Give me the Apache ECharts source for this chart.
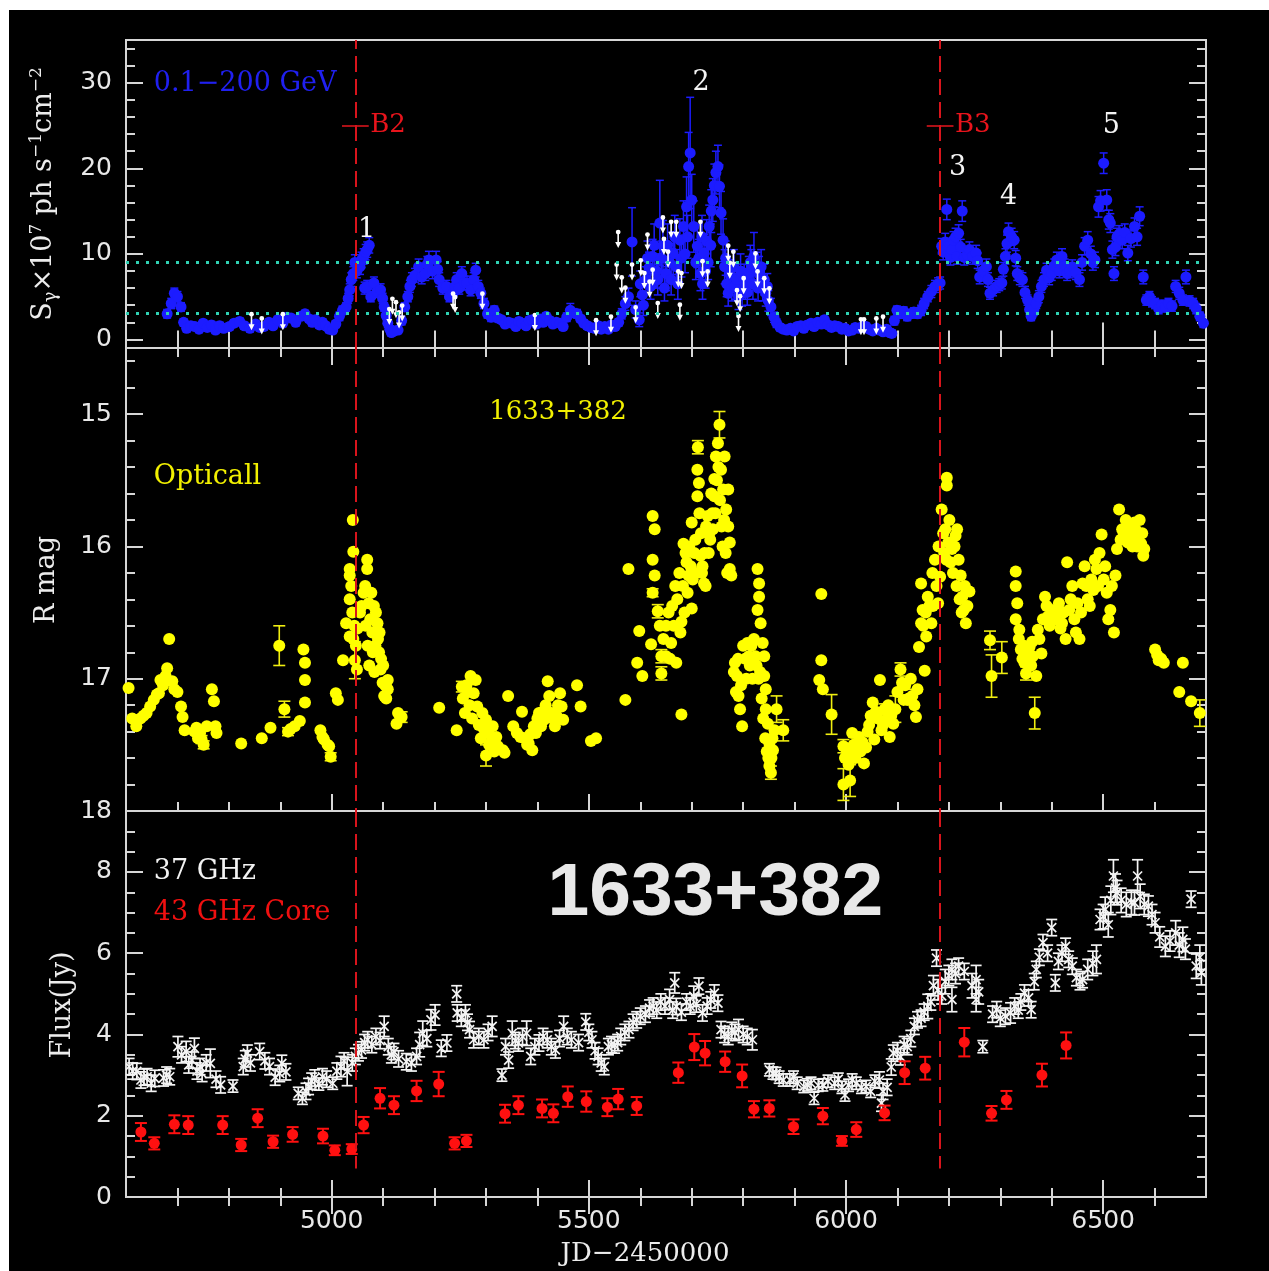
<!DOCTYPE html>
<html>
<head>
<meta charset="utf-8">
<title>1633+382 multiwavelength light curves</title>
<script src="https://cdn.jsdelivr.net/npm/echarts@6/dist/echarts.min.js"></script>
<style>
  html, body { margin: 0; padding: 0; background: #ffffff; width: 1269px; height: 1271px; overflow: hidden; }
  #chart { position: absolute; left: 9px; top: 10px; width: 1260px; height: 1261px; }
</style>
</head>
<body>
<div id="chart"></div>
<script>
// ---------------- axis ranges and tick values ----------------
const jdRange = [4600, 6700];
const jdMajorTicks = [5000, 5500, 6000, 6500];
const jdMinorTicks = [4700, 4800, 4900, 5100, 5200, 5300, 5400, 5600, 5700, 5800, 5900, 6100, 6200, 6300, 6400, 6600];

const gammaRange = [-1, 35];
const gammaMajorTicks = [0, 10, 20, 30];
const gammaMinorTicks = [2, 4, 6, 8, 12, 14, 16, 18, 22, 24, 26, 28, 32, 34];

const magRange = [14.5, 18];
const magMajorTicks = [15, 16, 17, 18];
const magMinorTicks = [14.6, 14.8, 15.2, 15.4, 15.6, 15.8, 16.2, 16.4, 16.6, 16.8, 17.2, 17.4, 17.6, 17.8];

const fluxRange = [0, 9.5];
const fluxMajorTicks = [0, 2, 4, 6, 8];
const fluxMinorTicks = [0.5, 1, 1.5, 2.5, 3, 3.5, 4.5, 5, 5.5, 6.5, 7, 7.5, 8.5, 9];

// ---------------- gamma-ray light curve: [JD-2450000, flux x1e-7, error] ----------------
const gammaPoints = [
  [4680,3.0,0.5],[4688,4.2,0.6],[4694,5.4,0.6],[4700,5.0,0.6],[4707,3.8,0.5],[4712,2.0,0.4],[4718,1.3,0.4],
  [4726,1.6,0.4],[4734,1.5,0.4],[4742,1.2,0.4],[4750,1.9,0.4],[4758,1.4,0.4],[4766,1.7,0.4],[4774,1.1,0.4],
  [4782,1.6,0.4],[4790,1.3,0.4],[4801,1.5,0.4],[4810,1.9,0.4],[4821,2.1,0.4],[4830,1.6,0.4],[4841,1.3,0.4],
  [4852,1.8,0.4],[4860,1.4,0.4],[4868,1.5,0.4],[4878,2.0,0.4],[4886,1.6,0.4],[4895,2.3,0.4],[4905,1.9,0.4],
  [4913,2.6,0.4],[4921,2.5,0.4],[4930,2.0,0.4],[4940,2.7,0.4],[4948,3.0,0.4],[4956,2.4,0.4],[4962,2.0,0.4],
  [4968,2.3,0.4],[4976,1.7,0.4],[4982,2.0,0.4],[4988,1.6,0.4],[4995,1.2,0.4],[5002,1.1,0.4],[5008,1.8,0.4],
  [5015,2.7,0.5],[5021,3.4,0.5],[5028,3.8,0.5],[5032,4.8,0.6],[5035,5.8,0.7],[5038,7.0,0.8],[5042,7.7,0.8],
  [5045,9.0,0.9],[5049,8.0,0.8],[5055,8.5,0.9],[5058,9.3,0.9],[5062,9.7,0.9],[5066,10.2,0.9],[5069,10.5,0.9],
  [5073,11.0,0.9],[5064,6.0,0.7],[5069,6.2,0.7],[5076,5.0,0.6],[5082,6.6,0.7],[5088,5.6,0.7],[5095,5.8,0.7],
  [5099,4.8,0.6],[5102,3.8,0.5],[5106,2.8,0.5],[5109,1.9,0.5],[5113,1.2,0.4],[5116,0.8,0.4],[5122,1.0,0.4],
  [5129,1.1,0.4],[5136,2.2,0.5],[5142,3.8,0.5],[5148,5.0,0.6],[5152,6.2,0.7],[5156,7.0,0.8],[5162,7.5,0.8],
  [5169,8.5,0.9],[5175,7.3,0.8],[5182,7.7,0.8],[5186,8.8,0.9],[5189,9.3,1.0],[5196,8.0,0.9],[5203,9.3,1.0],
  [5206,8.2,0.9],[5209,7.0,0.8],[5216,6.0,0.7],[5223,6.2,0.7],[5229,5.0,0.6],[5236,5.4,0.6],[5240,6.2,0.7],
  [5243,7.0,0.8],[5248,6.0,0.7],[5253,7.7,0.8],[5258,6.6,0.8],[5263,6.6,0.8],[5270,5.8,0.7],[5276,7.0,0.8],
  [5280,8.1,0.8],[5285,6.2,0.7],[5290,5.4,0.6],[5296,4.2,0.6],[5303,3.0,0.5],[5310,2.6,0.5],[5316,3.4,0.5],
  [5323,2.5,0.4],[5330,2.3,0.4],[5337,1.8,0.4],[5344,2.0,0.4],[5350,1.9,0.4],[5358,1.5,0.4],[5364,2.1,0.4],
  [5370,1.9,0.4],[5378,1.6,0.4],[5384,2.2,0.4],[5390,2.3,0.4],[5398,1.8,0.4],[5405,2.4,0.4],[5411,2.0,0.4],
  [5417,2.7,0.4],[5424,2.2,0.4],[5430,1.8,0.4],[5437,2.0,0.4],[5444,1.9,0.4],[5450,1.5,0.4],[5457,2.6,0.5],
  [5464,3.4,0.8],[5470,3.1,0.5],[5477,3.0,0.5],[5484,2.4,0.4],[5490,1.9,0.4],[5497,1.6,0.4],[5504,1.4,0.4],
  [5511,1.3,0.4],[5518,1.6,0.4],[5524,1.2,0.4],[5531,1.5,0.4],[5538,1.2,0.4],[5544,1.7,0.4],[5551,1.5,0.4],
  [5558,2.0,0.4],[5564,3.0,0.6],[5571,4.2,0.8],[5577,5.0,1.0],[5584,11.4,4.0],[5591,3.5,1.0],[5598,2.3,0.8],
  [5600,6.5,1.5],[5604,5.2,1.2],[5606,4.0,1.2],[5611,7.0,1.5],[5614,9.5,2.0],[5617,8.4,1.8],[5620,6.2,1.5],
  [5624,9.7,2.0],[5627,11.0,2.5],[5631,8.0,2.0],[5634,7.0,1.8],[5638,13.6,5.0],[5641,9.5,2.0],[5644,10.9,3.0],
  [5647,6.0,1.5],[5650,7.7,2.0],[5653,11.0,2.5],[5657,9.0,2.2],[5660,7.0,1.8],[5664,10.1,2.5],[5667,12.0,2.5],
  [5670,8.5,2.0],[5673,6.5,1.8],[5677,11.6,2.5],[5680,9.5,2.2],[5684,13.2,3.0],[5687,10.0,2.2],[5690,15.5,3.5],
  [5692,12.0,2.5],[5694,20.2,4.0],[5697,21.8,6.5],[5700,16.3,3.0],[5704,13.2,3.0],[5708,9.0,2.0],[5711,10.9,2.5],
  [5714,9.5,2.2],[5717,7.7,2.0],[5720,12.0,2.5],[5721,6.5,1.8],[5724,10.1,2.2],[5727,8.0,2.0],[5729,11.5,2.5],
  [5732,9.0,2.0],[5734,13.2,2.5],[5737,11.0,2.5],[5738,15.0,2.5],[5741,16.3,2.5],[5744,18.0,2.5],[5747,19.5,2.5],
  [5751,20.2,2.5],[5754,17.9,2.5],[5757,14.8,2.5],[5761,11.6,2.5],[5764,8.5,2.0],[5766,9.5,2.0],[5768,6.5,1.5],
  [5771,5.4,1.5],[5775,7.5,1.8],[5778,6.0,1.5],[5782,8.5,2.0],[5784,6.2,1.5],[5788,7.0,1.8],[5791,5.0,1.5],
  [5795,8.0,2.0],[5798,5.4,1.5],[5802,7.0,1.8],[5804,6.5,1.8],[5808,5.5,1.5],[5811,7.7,2.0],[5814,9.0,2.0],
  [5816,8.5,2.0],[5819,6.5,1.8],[5821,9.7,2.8],[5826,8.2,2.0],[5829,6.0,1.5],[5831,7.7,2.0],[5835,8.5,2.0],
  [5838,6.0,1.5],[5841,7.0,1.8],[5844,5.4,1.5],[5847,6.2,1.5],[5849,4.5,1.2],
  [5854,3.8,1.0],[5860,2.6,0.6],[5865,1.9,0.5],[5872,1.4,0.4],[5878,1.2,0.4],[5885,1.1,0.4],[5892,1.3,0.4],
  [5898,1.0,0.4],[5905,1.5,0.4],[5912,1.6,0.4],[5918,1.3,0.4],[5925,1.7,0.4],[5932,1.9,0.4],[5938,1.5,0.4],
  [5945,2.0,0.4],[5952,1.8,0.4],[5958,2.3,0.4],[5965,1.7,0.4],[5972,1.4,0.4],[5978,1.6,0.4],[5985,1.5,0.4],
  [5992,1.2,0.4],[5998,1.3,0.4],[6005,1.0,0.4],[6012,1.1,0.4],[6018,1.4,0.4],[6025,1.3,0.4],[6032,1.5,0.4],
  [6039,1.5,0.4],[6045,1.2,0.4],[6052,1.0,0.4],[6059,1.3,0.4],[6065,1.1,0.4],[6072,0.9,0.4],[6079,1.2,0.4],
  [6085,0.8,0.4],[6089,0.7,0.4],[6094,2.2,0.5],[6099,3.4,0.5],[6106,3.0,0.5],[6112,3.3,0.5],[6119,2.7,0.5],
  [6126,3.0,0.5],[6132,3.2,0.5],[6139,3.0,0.5],[6146,3.4,0.6],[6152,4.2,0.6],[6159,5.0,0.6],[6166,5.6,0.7],
  [6173,6.2,0.7],[6179,6.5,0.7],[6183,6.6,0.7],[6186,10.9,0.9],[6189,10.2,0.9],[6193,11.4,1.0],[6196,15.2,1.2],
  [6199,10.9,0.9],[6203,9.6,0.9],[6206,10.5,0.9],[6209,11.6,1.0],[6213,12.0,1.0],[6216,9.7,0.9],[6219,12.4,1.0],
  [6223,10.8,0.9],[6226,15.0,1.2],[6230,9.6,0.9],[6236,9.9,0.9],[6240,10.5,0.9],[6246,9.7,0.9],[6253,10.1,0.9],
  [6256,9.2,0.9],[6260,7.3,0.8],[6266,8.0,0.8],[6273,8.5,0.9],[6276,7.0,0.8],[6280,5.4,0.7],[6286,5.8,0.7],
  [6293,6.2,0.7],[6298,6.4,0.7],[6303,6.6,0.7],[6306,8.2,0.8],[6310,9.7,0.9],[6313,11.2,1.0],[6316,12.6,1.0],
  [6322,12.0,1.0],[6327,11.6,1.0],[6330,9.5,0.9],[6333,7.7,0.8],[6338,7.2,0.8],[6343,7.0,0.8],[6348,5.5,0.7],
  [6353,4.6,0.6],[6357,3.5,0.6],[6360,2.7,0.5],[6365,3.4,0.6],[6370,4.2,0.6],[6375,5.0,0.7],[6380,6.2,0.7],
  [6385,7.0,0.8],[6390,8.1,0.8],[6395,7.2,0.8],[6400,7.7,0.8],[6405,8.6,0.8],[6410,9.3,0.9],[6415,8.0,0.8],
  [6420,9.7,0.9],[6425,8.6,0.8],[6430,7.7,0.8],[6435,8.0,0.8],[6440,8.5,0.8],[6447,7.8,0.8],[6454,7.0,0.8],
  [6459,9.0,0.9],[6464,10.9,1.0],[6470,11.6,1.0],[6476,10.0,0.9],[6480,9.0,0.9],[6484,9.3,0.9],[6491,15.5,1.2],
  [6495,16.2,1.2],[6501,20.6,1.2],[6507,16.3,1.2],[6511,14.0,1.1],[6514,13.6,1.1],[6518,10.5,1.0],[6521,7.7,0.8],
  [6524,10.8,1.0],[6527,12.0,1.0],[6531,12.3,1.0],[6537,11.6,1.0],[6542,12.5,1.0],[6548,10.1,0.9],[6554,11.8,1.0],
  [6561,13.2,1.0],[6566,12.0,1.0],[6571,14.4,1.1],[6578,7.3,0.8],[6584,4.6,0.6],[6590,5.0,0.6],[6595,4.4,0.6],
  [6601,4.2,0.6],[6608,3.6,0.6],[6614,4.0,0.6],[6621,3.8,0.6],[6627,4.2,0.6],[6634,3.9,0.6],[6641,6.2,0.7],
  [6648,5.4,0.7],[6655,4.6,0.6],[6661,7.3,0.8],[6668,4.5,0.6],[6675,4.2,0.6],[6681,3.6,0.6],[6688,2.7,0.5],
  [6695,1.9,0.5]
];

// gamma-ray upper limits: [JD-2450000, limit]
const gammaUpperLimits = [
  [4844,1.2],[4864,0.7],[4905,1.2],[5112,1.8],[5118,3.0],[5125,2.6],[5131,1.4],[5137,2.2],[5236,3.6],[5240,3.2],
  [5293,3.6],[5395,1.1],[5514,0.5],[5543,0.9],[5554,7.0],[5557,10.8],[5564,5.5],[5571,4.3],[5584,7.0],[5591,2.0],
  [5601,7.5],[5608,6.0],[5614,10.5],[5618,5.0],[5624,6.4],[5634,2.5],[5644,12.5],[5646,10.0],[5654,8.5],[5660,12.0],
  [5670,12.0],[5674,6.2],[5677,2.3],[5680,6.0],[5717,12.0],[5721,7.4],[5731,6.2],[5771,9.2],[5774,7.2],[5781,8.5],
  [5788,4.0],[5791,1.0],[5794,3.3],[5801,5.4],[5824,8.3],[5828,6.2],[5841,5.4],[5851,4.2],[6029,0.6],[6035,0.6],
  [6059,0.7],[6072,0.9]
];

// ---------------- optical R-band: [JD-2450000, R mag, error (0 = within marker)] ----------------
const opticalPoints = [
  [4605,17.07,0],[4612,17.30,0],[4620,17.36,0],[4628,17.30,0],[4634,17.28,0],[4640,17.26,0],[4647,17.21,0],
  [4654,17.16,0],[4660,17.12,0],[4664,17.11,0],[4667,17.01,0],[4672,17.05,0],[4677,16.98,0],[4680,16.92,0],
  [4684,16.70,0],[4690,17.02,0],[4694,17.08,0],[4700,17.10,0],[4707,17.21,0],[4710,17.29,0],[4714,17.39,0],
  [4733,17.40,0],[4737,17.37,0],[4740,17.45,0],[4744,17.41,0],[4747,17.46,0.03],[4751,17.50,0.03],[4757,17.36,0],
  [4767,17.08,0],[4771,17.17,0],[4774,17.36,0],[4776,17.41,0],[4824,17.49,0],[4864,17.45,0],[4881,17.37,0],
  [4898,16.75,0.15],[4908,17.23,0.06],[4915,17.40,0.03],[4920,17.38,0],[4928,17.36,0],[4938,17.32,0],
  [4945,16.78,0],[4948,16.88,0],[4948,17.01,0],[4948,17.18,0],[4978,17.39,0],[4982,17.44,0],[4985,17.46,0],
  [4992,17.50,0],[4995,17.51,0],[4998,17.59,0.03],[5008,17.11,0],[5012,17.16,0],[5022,16.86,0],[5028,16.58,0],
  [5035,16.68,0],[5035,16.22,0],[5035,16.17,0],[5038,16.30,0],[5040,16.50,0],[5041,15.80,0],[5042,16.04,0],
  [5035,16.40,0],[5042,16.70,0],[5044,16.60,0],[5045,16.86,0.14],[5047,16.75,0],[5049,16.93,0],[5050,16.62,0],
  [5055,16.50,0],[5058,16.45,0],[5062,16.35,0],[5065,16.30,0],[5066,16.60,0],[5069,16.10,0],[5069,16.17,0],
  [5070,16.75,0],[5072,16.43,0],[5073,16.90,0],[5075,16.55,0],[5077,16.35,0],[5080,16.80,0],[5082,16.45,0],
  [5079,16.65,0],[5083,16.95,0],[5086,16.50,0],[5089,16.58,0],[5085,16.75,0],[5090,16.70,0],[5092,16.80,0],
  [5093,16.65,0],[5095,16.93,0],[5096,16.85,0],[5099,17.03,0],[5100,16.90,0],[5102,17.13,0],[5104,17.05,0],
  [5106,17.15,0],[5109,17.01,0],[5109,17.08,0],[5126,17.34,0],[5129,17.26,0],[5136,17.29,0.04],[5209,17.22,0],
  [5243,17.39,0],[5253,17.06,0.04],[5255,17.15,0],[5259,17.26,0],[5262,17.05,0],[5265,17.10,0],[5268,17.20,0],
  [5270,16.98,0],[5273,17.30,0],[5276,17.11,0],[5280,17.01,0],[5283,17.21,0],[5286,17.35,0],[5290,17.45,0],
  [5293,17.26,0],[5296,17.38,0],[5300,17.31,0],[5300,17.58,0.08],[5303,17.41,0],[5306,17.50,0],[5310,17.48,0],
  [5313,17.36,0],[5316,17.55,0],[5320,17.44,0],[5323,17.51,0],[5333,17.54,0],[5336,17.56,0],[5343,17.13,0],
  [5353,17.36,0],[5360,17.41,0],[5367,17.44,0],[5370,17.25,0],[5375,17.45,0],[5380,17.50,0],[5383,17.49,0],
  [5386,17.42,0],[5390,17.54,0],[5393,17.36,0],[5397,17.41,0],[5400,17.30,0],[5403,17.26,0],[5407,17.36,0],
  [5410,17.25,0],[5413,17.31,0],[5416,17.20,0],[5420,17.02,0],[5423,17.13,0],[5427,17.26,0],[5430,17.30,0],
  [5434,17.36,0],[5437,17.28,0],[5440,17.20,0],[5444,17.11,0],[5447,17.21,0],[5450,17.31,0],
  [5477,17.05,0],[5484,17.21,0],[5504,17.47,0],[5514,17.45,0],[5571,17.16,0],[5577,16.17,0],[5594,16.88,0],
  [5598,16.64,0],[5604,16.98,0],[5621,16.74,0],[5624,15.77,0],[5628,15.87,0],[5624,16.10,0],[5628,16.22,0],
  [5624,16.35,0.03],[5634,16.49,0.05],[5638,16.60,0],[5641,16.83,0.05],[5641,16.96,0.05],[5645,16.70,0],
  [5650,16.83,0],[5650,16.60,0],[5655,16.50,0],[5658,16.85,0],[5660,16.73,0],[5662,16.45,0],[5665,16.60,0],
  [5668,16.30,0],[5670,16.88,0],[5672,16.40,0],[5676,16.20,0],[5678,16.65,0],[5680,17.27,0],[5680,16.57,0],
  [5683,16.30,0],[5684,15.98,0],[5686,16.50,0],[5688,16.05,0],[5690,16.12,0],[5692,16.35,0],[5694,16.22,0],
  [5695,16.00,0],[5698,16.15,0],[5700,16.47,0],[5700,15.82,0],[5702,16.25,0],[5705,16.05,0],[5707,15.95,0],
  [5708,16.20,0],[5711,15.62,0],[5711,15.42,0],[5712,15.25,0.05],[5714,15.52,0],[5715,15.75,0],[5717,16.07,0],
  [5718,15.90,0],[5720,16.20,0],[5721,16.15,0],[5724,16.28,0],[5725,16.05,0],[5727,16.30,0],[5728,15.85,0],
  [5731,15.77,0],[5733,16.05,0],[5734,15.90,0],[5736,15.95,0],[5738,15.60,0],[5740,15.75,0],[5741,15.87,0],
  [5744,15.62,0],[5744,15.49,0],[5746,15.75,0],[5747,15.32,0],[5749,15.50,0],[5751,15.22,0],[5752,15.40,0],
  [5754,15.08,0.1],[5755,15.65,0],[5757,15.42,0],[5758,15.85,0],[5760,16.00,0],[5761,15.57,0],[5763,15.80,0],
  [5764,15.32,0],[5766,16.05,0],[5767,15.72,0],[5769,16.20,0],[5771,15.85,0],[5771,15.57,0],[5774,15.97,0],
  [5774,16.17,0],[5777,16.22,0],[5782,16.95,0],[5784,16.88,0],[5786,17.10,0],[5788,16.98,0],[5790,16.85,0],
  [5791,17.13,0],[5794,17.23,0],[5796,17.05,0],[5798,17.36,0],[5800,16.75,0],[5804,16.85,0],[5806,17.00,0],
  [5808,16.73,0],[5811,16.83,0],[5813,16.90,0],[5816,16.75,0],[5818,17.00,0],[5821,16.70,0],[5824,16.83,0],
  [5826,16.90,0],[5828,16.17,0],[5830,17.00,0],[5831,16.28,0],[5831,16.38,0],[5828,16.48,0],[5833,16.95,0],
  [5834,16.58,0],[5836,17.15,0],[5838,16.73,0],[5839,17.30,0],[5841,16.83,0],[5841,16.98,0],[5843,17.45,0],
  [5844,17.08,0],[5844,17.23,0],[5846,17.55,0],[5848,17.34,0],[5849,17.60,0],[5851,17.49,0],[5851,17.66,0],
  [5854,17.71,0.05],[5855,17.60,0],[5857,17.45,0],[5858,17.54,0],[5861,17.39,0],[5865,17.23,0.1],[5878,17.39,0.08],
  [5952,16.36,0],[5952,16.86,0],[5948,17.01,0],[5955,17.08,0],[5972,17.27,0.15],[5995,17.51,0.05],
  [5995,17.80,0.12],[5998,17.60,0],[6002,17.55,0],[6005,17.65,0],[6008,17.77,0.12],[6012,17.41,0],[6012,17.54,0],
  [6015,17.50,0],[6018,17.60,0],[6022,17.49,0],[6025,17.44,0],[6028,17.55,0],[6032,17.48,0],[6035,17.64,0],
  [6039,17.52,0],[6042,17.40,0],[6045,17.35,0],[6048,17.28,0],[6052,17.18,0],[6055,17.46,0],[6058,17.25,0],
  [6062,17.30,0],[6066,17.01,0],[6069,17.39,0],[6072,17.35,0],[6075,17.23,0.04],[6079,17.31,0],[6082,17.20,0],
  [6085,17.44,0],[6088,17.28,0],[6092,17.34,0],[6096,17.23,0.1],[6100,17.10,0],[6106,16.93,0.05],[6109,17.03,0],
  [6112,17.16,0],[6115,17.05,0],[6119,17.16,0],[6122,17.15,0],[6126,17.00,0],[6129,17.13,0.05],[6133,17.20,0],
  [6136,17.29,0],[6139,17.08,0],[6142,16.76,0],[6146,16.58,0],[6149,16.48,0],[6150,16.60,0],[6153,16.94,0],
  [6146,16.28,0],[6155,16.50,0],[6156,16.68,0],[6159,16.38,0],[6162,16.45,0],[6166,16.58,0],[6168,16.20,0],
  [6169,16.45,0],[6173,16.10,0],[6176,16.30,0],[6179,16.43,0],[6180,16.00,0],[6183,16.23,0],[6186,15.72,0],
  [6189,15.90,0],[6191,16.05,0],[6193,15.87,0],[6195,16.10,0],[6196,15.48,0],[6196,15.54,0],[6199,15.97,0],
  [6201,15.80,0],[6203,16.12,0],[6206,16.02,0],[6208,16.20,0],[6211,16.00,0],[6213,15.92,0],[6215,16.30,0],
  [6216,15.87,0],[6219,16.10,0],[6221,16.40,0],[6223,16.22,0],[6225,16.50,0],[6226,16.38,0],[6229,16.48,0],
  [6231,16.30,0],[6233,16.58,0],[6236,16.45,0],[6240,16.34,0],[6280,16.71,0.07],[6283,16.98,0.16],[6303,16.84,0.12],
  [6330,16.19,0],[6330,16.30,0],[6333,16.43,0],[6330,16.55,0],[6336,16.70,0],[6337,16.63,0],[6340,16.78,0],
  [6343,16.85,0],[6346,16.75,0],[6347,16.88,0],[6350,16.96,0.05],[6353,16.80,0],[6357,16.76,0],[6360,16.90,0],
  [6362,16.72,0],[6363,16.83,0],[6367,17.26,0.12],[6370,16.98,0],[6373,16.63,0],[6376,16.70,0],[6380,16.81,0],
  [6383,16.55,0],[6387,16.38,0],[6390,16.45,0],[6393,16.53,0],[6396,16.60,0],[6400,16.48,0],[6403,16.52,0],
  [6407,16.55,0],[6410,16.50,0],[6414,16.43,0],[6417,16.62,0],[6420,16.58,0],[6423,16.50,0],[6427,16.70,0],
  [6430,16.12,0],[6434,16.48,0],[6437,16.40,0],[6440,16.30,0],[6444,16.55,0],[6447,16.65,0],[6450,16.43,0],
  [6454,16.70,0],[6457,16.50,0],[6460,16.28,0],[6464,16.15,0],[6467,16.30,0],[6470,16.40,0],[6474,16.45,0],
  [6477,16.25,0],[6481,16.33,0],[6484,16.10,0],[6487,16.17,0],[6490,16.30,0],[6493,16.05,0],[6497,15.91,0],
  [6501,16.25,0],[6504,16.15,0],[6507,16.35,0],[6510,16.55,0],[6514,16.48,0],[6517,16.30,0],[6521,16.65,0],
  [6524,16.22,0],[6527,16.02,0],[6531,15.72,0],[6534,15.95,0],[6537,15.87,0],[6540,15.90,0],[6544,15.80,0],
  [6548,15.97,0],[6551,15.85,0],[6554,15.92,0],[6557,16.00,0],[6561,15.82,0],[6564,15.88,0],[6566,16.00,0],
  [6568,15.95,0],[6571,15.80,0],[6574,15.98,0],[6576,15.90,0],[6578,16.07,0],[6580,16.02,0],[6601,16.78,0],
  [6605,16.82,0],[6608,16.86,0],[6613,16.85,0],[6618,16.88,0],[6648,17.10,0],[6655,16.88,0],[6671,17.17,0],
  [6688,17.26,0.1]
];

// ---------------- 37 GHz single-dish flux: [JD-2450000, Jy, error] ----------------
const radio37Points = [
  [4606,3.21,0.2],[4613,3.10,0.2],[4621,3.09,0.2],[4629,2.88,0.2],[4635,2.95,0.2],[4641,2.96,0.2],[4649,2.80,0.2],
  [4656,2.92,0.2],[4673,2.93,0.2],[4679,3.00,0.2],[4685,2.96,0.2],[4701,3.70,0.25],[4708,3.50,0.2],[4717,3.58,0.25],
  [4722,3.25,0.2],[4728,3.37,0.2],[4733,3.66,0.25],[4738,3.10,0.2],[4744,3.21,0.2],[4748,3.04,0.2],[4756,3.30,0.2],
  [4764,3.29,0.35],[4775,2.90,0.2],[4784,2.76,0.2],[4808,2.73,0.15],[4828,3.21,0.2],[4832,3.40,0.2],[4836,3.54,0.2],
  [4842,3.30,0.2],[4860,3.58,0.2],[4870,3.35,0.2],[4879,3.21,0.2],[4890,2.95,0.2],[4899,3.04,0.2],[4903,3.29,0.2],
  [4911,3.08,0.2],[4935,2.55,0.15],[4943,2.43,0.15],[4950,2.60,0.2],[4955,2.72,0.2],[4961,2.85,0.2],[4967,2.93,0.2],
  [4975,2.78,0.15],[4982,2.96,0.2],[4990,2.90,0.2],[5002,2.80,0.15],[5010,3.10,0.2],[5018,3.21,0.25],[5024,3.35,0.2],
  [5030,3.09,0.35],[5040,3.30,0.2],[5046,3.46,0.2],[5052,3.55,0.2],[5058,3.62,0.2],[5064,3.80,0.2],[5070,3.87,0.2],
  [5078,3.75,0.2],[5086,3.95,0.2],[5094,3.85,0.2],[5102,4.20,0.25],[5110,3.70,0.2],[5116,3.50,0.2],[5121,3.58,0.2],
  [5130,3.40,0.2],[5145,3.33,0.2],[5155,3.30,0.2],[5165,3.46,0.2],[5171,3.75,0.3],[5177,4.03,0.3],[5185,3.90,0.2],
  [5193,4.36,0.25],[5201,4.48,0.25],[5213,3.66,0.2],[5224,3.79,0.2],[5243,5.00,0.2],[5244,4.53,0.2],[5252,4.40,0.2],
  [5260,4.53,0.2],[5264,4.30,0.2],[5268,4.12,0.2],[5276,3.87,0.2],[5286,3.95,0.2],[5296,3.87,0.2],[5304,4.05,0.2],
  [5312,4.20,0.25],[5331,3.00,0.15],[5338,3.70,0.2],[5344,3.37,0.2],[5351,4.03,0.3],[5357,3.85,0.2],[5363,3.79,0.2],
  [5371,3.95,0.2],[5379,4.03,0.3],[5387,3.46,0.2],[5395,3.70,0.2],[5403,3.79,0.2],[5411,3.95,0.2],[5419,3.87,0.2],
  [5427,3.70,0.2],[5435,3.62,0.2],[5443,3.90,0.2],[5451,4.20,0.25],[5458,3.95,0.2],[5466,3.87,0.2],[5480,3.80,0.2],
  [5494,4.31,0.2],[5500,4.05,0.2],[5506,3.87,0.2],[5512,3.60,0.2],[5518,3.46,0.2],[5524,3.30,0.2],[5530,3.21,0.2],
  [5538,3.70,0.2],[5544,3.75,0.2],[5550,3.74,0.2],[5556,3.80,0.2],[5562,3.95,0.2],[5570,4.05,0.2],[5578,4.12,0.2],
  [5586,4.30,0.2],[5593,4.36,0.2],[5600,4.45,0.2],[5610,4.50,0.2],[5618,4.65,0.2],[5625,4.70,0.2],[5632,4.60,0.2],
  [5640,4.80,0.2],[5648,4.70,0.2],[5657,4.86,0.25],[5663,4.60,0.2],[5667,5.27,0.25],[5670,4.69,0.2],[5680,4.55,0.2],
  [5690,4.80,0.2],[5697,4.70,0.2],[5704,4.94,0.25],[5709,4.75,0.2],[5714,5.19,0.2],[5721,4.53,0.2],[5730,4.70,0.2],
  [5737,4.85,0.2],[5744,5.02,0.2],[5751,4.77,0.2],[5757,4.12,0.2],[5764,4.00,0.2],[5771,3.95,0.2],[5778,4.10,0.2],
  [5784,4.05,0.2],[5791,4.12,0.25],[5800,4.00,0.2],[5808,3.95,0.2],[5818,3.87,0.25],[5851,3.13,0.15],[5858,3.05,0.15],
  [5864,3.04,0.15],[5870,2.95,0.15],[5878,2.88,0.15],[5891,2.88,0.15],[5898,2.95,0.15],[5905,2.80,0.15],
  [5918,2.72,0.15],[5925,2.76,0.15],[5932,2.80,0.15],[5938,2.43,0.15],[5946,2.75,0.15],[5955,2.76,0.15],
  [5965,2.85,0.15],[5978,2.80,0.15],[5985,2.90,0.15],[5992,2.70,0.15],[5998,2.51,0.15],[6005,2.75,0.15],
  [6012,2.88,0.15],[6020,2.80,0.15],[6030,2.70,0.15],[6039,2.72,0.15],[6048,2.60,0.15],[6056,2.85,0.15],
  [6065,2.88,0.2],[6069,2.31,0.2],[6072,2.60,0.2],[6080,2.70,0.2],[6088,3.20,0.2],[6092,3.54,0.2],[6100,3.60,0.2],
  [6106,3.45,0.2],[6113,3.75,0.2],[6119,3.70,0.2],[6126,3.90,0.2],[6133,4.20,0.2],[6139,4.36,0.2],[6146,4.40,0.2],
  [6152,4.55,0.2],[6159,4.69,0.3],[6165,4.80,0.2],[6170,5.20,0.25],[6176,5.88,0.2],[6179,5.10,0.25],[6186,4.95,0.2],
  [6193,5.30,0.3],[6200,5.45,0.25],[6206,5.60,0.25],[6206,4.86,0.3],[6213,5.50,0.25],[6219,5.68,0.2],[6230,5.55,0.2],
  [6245,5.20,0.3],[6253,5.35,0.35],[6253,4.86,0.3],[6258,5.05,0.3],[6266,3.70,0.15],[6285,4.50,0.2],[6293,4.61,0.2],
  [6300,4.40,0.2],[6310,4.45,0.2],[6320,4.53,0.25],[6328,4.70,0.2],[6335,4.60,0.2],[6340,4.80,0.2],[6347,5.02,0.2],
  [6355,4.90,0.2],[6360,4.61,0.2],[6366,5.30,0.2],[6370,5.60,0.2],[6376,5.90,0.2],[6383,6.26,0.2],[6392,6.00,0.2],
  [6400,6.63,0.2],[6407,5.27,0.2],[6413,5.80,0.2],[6420,6.00,0.2],[6427,6.17,0.2],[6433,5.85,0.2],[6440,5.68,0.2],
  [6448,5.40,0.2],[6455,5.30,0.2],[6460,5.35,0.2],[6470,5.60,0.25],[6480,5.75,0.3],[6487,5.85,0.35],[6494,6.83,0.25],
  [6500,6.90,0.3],[6504,7.08,0.3],[6510,6.70,0.3],[6515,7.30,0.35],[6520,7.90,0.4],[6524,7.60,0.35],[6527,7.49,0.3],
  [6535,7.30,0.3],[6545,7.20,0.3],[6555,7.25,0.3],[6561,7.24,0.3],[6567,7.90,0.4],[6572,7.40,0.3],[6580,7.20,0.25],
  [6588,7.16,0.25],[6595,6.95,0.25],[6601,6.75,0.25],[6610,6.40,0.25],[6621,6.17,0.25],[6630,6.30,0.25],
  [6641,6.50,0.3],[6648,6.20,0.3],[6655,6.34,0.3],[6660,6.10,0.25],[6671,7.33,0.2],[6681,5.68,0.3],[6688,5.90,0.3],
  [6691,5.52,0.3]
];

// ---------------- 43 GHz VLBI core flux: [JD-2450000, Jy, error] ----------------
const core43Points = [
  [4629,1.60,0.22],[4655,1.32,0.15],[4694,1.79,0.22],[4721,1.77,0.22],[4788,1.77,0.22],[4824,1.28,0.15],
  [4856,1.94,0.22],[4886,1.36,0.15],[4924,1.54,0.18],[4983,1.50,0.18],[5006,1.15,0.12],[5039,1.18,0.12],
  [5062,1.77,0.2],[5094,2.43,0.25],[5121,2.26,0.22],[5165,2.61,0.25],[5208,2.78,0.3],[5239,1.32,0.15],
  [5262,1.38,0.15],[5337,2.05,0.22],[5363,2.26,0.22],[5409,2.18,0.22],[5431,2.06,0.22],[5459,2.47,0.25],
  [5495,2.35,0.25],[5536,2.21,0.22],[5557,2.41,0.25],[5593,2.24,0.22],[5674,3.06,0.25],[5705,3.69,0.32],
  [5726,3.54,0.3],[5765,3.33,0.25],[5798,2.98,0.28],[5821,2.16,0.2],[5851,2.18,0.2],[5898,1.73,0.18],
  [5955,1.99,0.2],[5992,1.38,0.12],[6020,1.66,0.18],[6075,2.07,0.18],[6114,3.06,0.28],[6154,3.17,0.28],
  [6230,3.81,0.35],[6283,2.06,0.18],[6312,2.39,0.22],[6381,3.00,0.28],[6428,3.73,0.32]
];

// ---------------- event markers and annotations ----------------
const burstJD = [5046, 6183];
const burstNames = ['B2', 'B3'];
const burstMarkFlux = 25;
const burstMarkHalfWidth = 26;
const radioBurstLineBottom = 0.7;
const gammaLevels = [9.0, 3.05];

const flareNames = ['1', '2', '3', '4', '5'];
const flareJD = [5068, 5718, 6217, 6316, 6516];
const flareFlux = [12.8, 30.0, 20.0, 16.7, 25.0];

const gammaBandText = '0.1\u2212200 GeV';
const gammaBandAt = [4653, 29.9];
const opticalBandText = 'Opticall';
const opticalBandAt = [4653, 15.477];
const sourceName = '1633+382';
const opticalNameAt = [5440, 14.985];
const radio37Text = '37 GHz';
const radio37At = [4653, 7.99];
const core43Text = '43 GHz Core';
const core43At = [4653, 7.0];
const bigNameAt = [5746, 7.45];

// ---------------- styling ----------------
const frameColor = '#d6d6d6';
const tickFont = 'DejaVu Sans';
const textFont = 'DejaVu Serif';
const gammaBlue = '#1c1cff';
const optYellow = '#ffff00';
const coreRed = '#ff1010';
const burstRed = '#d8141c';
const levelCyan = '#2fd2b4';
const radioWhite = '#f4f4f4';

const chart = echarts.init(document.getElementById('chart'), null, { renderer: 'canvas' });

const grids = [
  { left: 117, right: 63, top: 30, height: 308 },
  { left: 117, right: 63, top: 338, height: 463 },
  { left: 117, right: 63, top: 801, height: 386 }
].map(g => Object.assign(g, { show: true, borderColor: frameColor, borderWidth: 2, backgroundColor: 'transparent' }));

const MINOR_LEN = 9, MAJOR_LEN = 17;
const tickLine = { color: frameColor, width: 2 };
const tickLabel = { color: '#e8e8e8', fontFamily: tickFont, fontSize: 25, formatter: v => String(v) };

function xAxesFor(gridIndex, withLabels) {
  const base = { type: 'value', gridIndex, min: jdRange[0], max: jdRange[1],
    axisLine: { show: false }, splitLine: { show: false } };
  return [
    Object.assign({}, base, { position: 'bottom',
      axisTick: { inside: true, length: MINOR_LEN, customValues: jdMinorTicks, lineStyle: tickLine },
      axisLabel: { show: false } }),
    Object.assign({}, base, { position: 'bottom',
      axisTick: { inside: true, length: MAJOR_LEN, customValues: jdMajorTicks, lineStyle: tickLine },
      axisLabel: withLabels ? Object.assign({ show: true, customValues: jdMajorTicks, margin: 12 }, tickLabel) : { show: false } }),
    Object.assign({}, base, { position: 'top',
      axisTick: { inside: true, length: MINOR_LEN, customValues: jdMinorTicks, lineStyle: tickLine },
      axisLabel: { show: false } }),
    Object.assign({}, base, { position: 'top',
      axisTick: { inside: true, length: MAJOR_LEN, customValues: jdMajorTicks, lineStyle: tickLine },
      axisLabel: { show: false } })
  ];
}

function yAxesFor(gridIndex, range, minor, major, inverse) {
  const base = { type: 'value', gridIndex, min: range[0], max: range[1], inverse: !!inverse,
    axisLine: { show: false }, splitLine: { show: false } };
  return [
    Object.assign({}, base, { position: 'left',
      axisTick: { inside: true, length: MINOR_LEN, customValues: minor, lineStyle: tickLine },
      axisLabel: { show: false } }),
    Object.assign({}, base, { position: 'left',
      axisTick: { inside: true, length: MAJOR_LEN, customValues: major, lineStyle: tickLine },
      axisLabel: Object.assign({ show: true, customValues: major, margin: 14 }, tickLabel) }),
    Object.assign({}, base, { position: 'right',
      axisTick: { inside: true, length: MINOR_LEN, customValues: minor, lineStyle: tickLine },
      axisLabel: { show: false } }),
    Object.assign({}, base, { position: 'right',
      axisTick: { inside: true, length: MAJOR_LEN, customValues: major, lineStyle: tickLine },
      axisLabel: { show: false } })
  ];
}

const xAxes = [].concat(xAxesFor(0, false), xAxesFor(1, false), xAxesFor(2, true));
const yAxes = [].concat(
  yAxesFor(0, gammaRange, gammaMinorTicks, gammaMajorTicks, false),
  yAxesFor(1, magRange, magMinorTicks, magMajorTicks, true),
  yAxesFor(2, fluxRange, fluxMinorTicks, fluxMajorTicks, false)
);
// axis indices holding the data of each panel
const PANEL = [0, 4, 8];

// vertical error bar with end caps
function errorBarRenderer(color, capHalf, width) {
  return function (params, api) {
    const x = api.value(0), y = api.value(1), e = api.value(2);
    if (!e) return null;
    const a = api.coord([x, y + e]);
    const b = api.coord([x, y - e]);
    const st = { stroke: color, lineWidth: width };
    return { type: 'group', children: [
      { type: 'line', shape: { x1: a[0], y1: a[1], x2: b[0], y2: b[1] }, style: st },
      { type: 'line', shape: { x1: a[0] - capHalf, y1: a[1], x2: a[0] + capHalf, y2: a[1] }, style: st },
      { type: 'line', shape: { x1: b[0] - capHalf, y1: b[1], x2: b[0] + capHalf, y2: b[1] }, style: st }
    ] };
  };
}

// downward arrow for an upper limit, tip at the limit value
function upperLimitRenderer(params, api) {
  const p = api.coord([api.value(0), api.value(1)]);
  const len = 15;
  const st = { stroke: '#ffffff', lineWidth: 1.6 };
  return { type: 'group', children: [
    { type: 'line', shape: { x1: p[0], y1: p[1] - len, x2: p[0], y2: p[1] - 4 }, style: st },
    { type: 'polygon', shape: { points: [[p[0] - 3, p[1] - 5], [p[0] + 3, p[1] - 5], [p[0], p[1] + 1]] }, style: { fill: '#ffffff' } },
    { type: 'circle', shape: { cx: p[0], cy: p[1] - len, r: 2.4 }, style: { fill: '#ffffff' } }
  ] };
}

// 37 GHz point: cross marker inside a capped error bar
function crossRenderer(params, api) {
  const x = api.value(0), y = api.value(1), e = api.value(2);
  const p = api.coord([x, y]);
  const a = api.coord([x, y + e]);
  const b = api.coord([x, y - e]);
  const s = 4.5, cap = 5.5;
  const st = { stroke: radioWhite, lineWidth: 1.7 };
  return { type: 'group', children: [
    { type: 'line', shape: { x1: a[0], y1: a[1], x2: b[0], y2: b[1] }, style: st },
    { type: 'line', shape: { x1: a[0] - cap, y1: a[1], x2: a[0] + cap, y2: a[1] }, style: st },
    { type: 'line', shape: { x1: b[0] - cap, y1: b[1], x2: b[0] + cap, y2: b[1] }, style: st },
    { type: 'line', shape: { x1: p[0] - s, y1: p[1] - s, x2: p[0] + s, y2: p[1] + s }, style: st },
    { type: 'line', shape: { x1: p[0] - s, y1: p[1] + s, x2: p[0] + s, y2: p[1] - s }, style: st }
  ] };
}

function textItem(at, text, color, size, position, extra) {
  return { value: at, label: Object.assign({ show: true, formatter: () => text, position: position,
    distance: 0, color: color, fontFamily: textFont, fontSize: size }, extra || {}) };
}
function textSeries(panel, items) {
  return { type: 'scatter', xAxisIndex: PANEL[panel], yAxisIndex: PANEL[panel], symbolSize: 1,
    itemStyle: { color: 'rgba(0,0,0,0)', opacity: 1 }, silent: true, z: 20, data: items };
}

const burstLineStyle = { color: burstRed, type: [16, 7], width: 2, opacity: 1 };
function burstLines(panel, full) {
  const data = full
    ? burstJD.map(x => ({ xAxis: x }))
    : burstJD.map(x => [{ coord: [x, fluxRange[1]] }, { coord: [x, radioBurstLineBottom] }]);
  return { type: 'line', xAxisIndex: PANEL[panel], yAxisIndex: PANEL[panel], data: [], z: 10,
    markLine: { silent: true, symbol: 'none', label: { show: false }, lineStyle: burstLineStyle, data: data } };
}

const series = [
  // ---- gamma-ray panel ----
  { type: 'custom', xAxisIndex: 0, yAxisIndex: 0, data: gammaPoints, clip: true, z: 2,
    encode: { x: 0, y: 1 }, renderItem: errorBarRenderer(gammaBlue, 4, 1.5) },
  { type: 'scatter', xAxisIndex: 0, yAxisIndex: 0, z: 3, symbol: 'circle', symbolSize: 11,
    itemStyle: { color: gammaBlue, opacity: 1 }, data: gammaPoints.map(p => [p[0], p[1]]) },
  { type: 'custom', xAxisIndex: 0, yAxisIndex: 0, data: gammaUpperLimits, z: 4,
    encode: { x: 0, y: 1 }, renderItem: upperLimitRenderer },
  { type: 'line', xAxisIndex: 0, yAxisIndex: 0, data: [], z: 9,
    markLine: { silent: true, symbol: 'none', label: { show: false },
      lineStyle: { color: levelCyan, type: [3, 7], width: 3, opacity: 1 },
      data: gammaLevels.map(v => ({ yAxis: v })) } },
  burstLines(0, true),
  { type: 'line', xAxisIndex: 0, yAxisIndex: 0, data: [], z: 10,
    markLine: { silent: true, symbol: 'none', label: { show: false },
      lineStyle: { color: burstRed, type: 'solid', width: 1.6, opacity: 1 },
      data: burstJD.map(x => [{ coord: [x - burstMarkHalfWidth, burstMarkFlux] }, { coord: [x + burstMarkHalfWidth, burstMarkFlux] }]) } },
  textSeries(0, [
    textItem(gammaBandAt, gammaBandText, '#2020f0', 27, 'right'),
    ...burstJD.map((x, i) => textItem([x + burstMarkHalfWidth, burstMarkFlux], burstNames[i], '#e8141c', 26, 'right', { distance: 1 })),
    ...flareNames.map((n, i) => textItem([flareJD[i], flareFlux[i]], n, '#f4f4f4', 27, 'inside'))
  ]),

  // ---- optical panel ----
  { type: 'custom', xAxisIndex: 4, yAxisIndex: 4, data: opticalPoints, clip: true, z: 2,
    encode: { x: 0, y: 1 }, renderItem: errorBarRenderer('#f0ee10', 6, 1.6) },
  { type: 'scatter', xAxisIndex: 4, yAxisIndex: 4, z: 3, symbol: 'circle', symbolSize: 12,
    itemStyle: { color: optYellow, opacity: 1 }, data: opticalPoints.map(p => [p[0], p[1]]) },
  burstLines(1, true),
  textSeries(1, [
    textItem(opticalBandAt, opticalBandText, '#f2f000', 27, 'right'),
    textItem(opticalNameAt, sourceName, '#f2f000', 26, 'inside')
  ]),

  // ---- radio panel ----
  { type: 'custom', xAxisIndex: 8, yAxisIndex: 8, data: radio37Points, clip: true, z: 2,
    encode: { x: 0, y: 1 }, renderItem: crossRenderer },
  { type: 'custom', xAxisIndex: 8, yAxisIndex: 8, data: core43Points, clip: true, z: 3,
    encode: { x: 0, y: 1 }, renderItem: errorBarRenderer(coreRed, 6, 2) },
  { type: 'scatter', xAxisIndex: 8, yAxisIndex: 8, z: 4, symbol: 'circle', symbolSize: 11,
    itemStyle: { color: coreRed, opacity: 1 }, data: core43Points.map(p => [p[0], p[1]]) },
  burstLines(2, false),
  textSeries(2, [
    textItem(radio37At, radio37Text, '#f2f2f2', 27, 'right'),
    textItem(core43At, core43Text, '#f01010', 27, 'right'),
    textItem(bigNameAt, sourceName, '#e8e8e8', 75, 'inside', { fontFamily: 'Liberation Sans', fontWeight: 'bold' })
  ])
];

const titleColor = '#ececec';
const graphic = [
  { type: 'text', x: 35, y: 184, rotation: Math.PI / 2, silent: true,
    style: {
      text: '{m|S}{sub|\u03b3}{m|\u00d710}{sup|7}{m| ph s}{sup|\u22121}{m|cm}{sup|\u22122}',
      align: 'center', verticalAlign: 'middle',
      rich: {
        m: { fontFamily: textFont, fontSize: 27, fill: titleColor, lineHeight: 32, verticalAlign: 'middle' },
        sup: { fontFamily: textFont, fontSize: 17, fill: titleColor, lineHeight: 18, verticalAlign: 'top' },
        sub: { fontFamily: textFont, fontSize: 18, fill: titleColor, lineHeight: 18, verticalAlign: 'bottom' }
      }
    } },
  { type: 'text', x: 38, y: 570, rotation: Math.PI / 2, silent: true,
    style: { text: 'R mag', fill: titleColor, fontFamily: textFont, fontSize: 27, align: 'center', verticalAlign: 'middle' } },
  { type: 'text', x: 54, y: 995, rotation: Math.PI / 2, silent: true,
    style: { text: 'Flux(Jy)', fill: titleColor, fontFamily: textFont, fontSize: 27, align: 'center', verticalAlign: 'middle' } },
  { type: 'text', x: 636, y: 1244, silent: true,
    style: { text: 'JD\u22122450000', fill: titleColor, fontFamily: textFont, fontSize: 26, align: 'center', verticalAlign: 'middle' } }
];

chart.setOption({
  backgroundColor: '#000000',
  animation: false,
  grid: grids,
  xAxis: xAxes,
  yAxis: yAxes,
  series: series,
  graphic: graphic
});
</script>
</body>
</html>
